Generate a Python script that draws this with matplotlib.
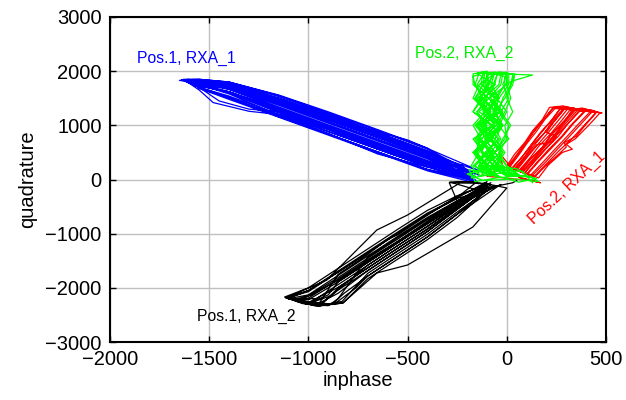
import matplotlib
matplotlib.use("Agg")
import matplotlib.pyplot as plt

plt.rcParams['font.family'] = ['Liberation Sans', 'DejaVu Sans']

# ---- data (inphase, quadrature) ----
blue_pos1_rxa1 = [
    (-160, 60),
    (-400, 520), (-650, 870), (-900, 1210), (-1150, 1530), (-1400, 1790), (-1550, 1840), (-1630, 1830), (-1550, 1740), (-1400, 1600), (-1150, 1260), (-900, 930), (-650, 600), (-400, 280), (-170, 20),
    (-400, 430), (-650, 770), (-900, 1100), (-1150, 1430), (-1400, 1750), (-1550, 1820), (-1600, 1810), (-1550, 1700), (-1400, 1520), (-1150, 1160), (-900, 840), (-650, 510), (-400, 180), (-150, -40),
    (-400, 580), (-650, 920), (-900, 1250), (-1150, 1560), (-1400, 1800), (-1550, 1850), (-1640, 1840), (-1550, 1760), (-1400, 1680), (-1150, 1370), (-900, 1040), (-650, 710), (-400, 380), (-180, 60),
    (-400, 330), (-650, 660), (-900, 990), (-1150, 1320), (-1400, 1660), (-1550, 1780), (-1590, 1800), (-1550, 1680), (-1400, 1480), (-1150, 1150), (-900, 820), (-650, 490), (-400, 160), (-140, -80),
    (-400, 480), (-650, 820), (-900, 1150), (-1150, 1470), (-1400, 1770), (-1550, 1830), (-1620, 1820), (-1550, 1790), (-1400, 1720), (-1150, 1500), (-900, 1190), (-650, 860), (-400, 530), (-170, 130),
    (-400, 560), (-650, 900), (-900, 1230), (-1150, 1550), (-1400, 1800), (-1550, 1850), (-1630, 1850), (-1550, 1650), (-1480, 1420), (-1300, 1260), (-1150, 1200), (-900, 930), (-650, 560), (-400, 240), (-160, -30),
    (-400, 240), (-650, 560), (-900, 890), (-1150, 1230), (-1400, 1600), (-1550, 1760), (-1580, 1790), (-1550, 1720), (-1400, 1620), (-1150, 1310), (-900, 980), (-650, 640), (-400, 320), (-190, 20),
    (-400, 400), (-650, 730), (-900, 1060), (-1150, 1390), (-1400, 1720), (-1550, 1810), (-1610, 1830), (-1550, 1780), (-1400, 1700), (-1150, 1440), (-900, 1120), (-650, 780), (-400, 460), (-150, 100),
    (-400, 290), (-650, 610), (-900, 940), (-1150, 1270), (-1400, 1620), (-1550, 1770), (-1600, 1800), (-1550, 1700), (-1400, 1540), (-1150, 1200), (-900, 880), (-650, 560), (-400, 230), (-160, -20),
    (-400, 500), (-650, 840), (-900, 1170), (-1150, 1500), (-1400, 1780), (-1550, 1840), (-1650, 1830), (-1550, 1770), (-1400, 1700), (-1150, 1400), (-900, 1070), (-650, 740), (-400, 410), (-140, 80),
    (-400, 450), (-650, 780), (-900, 1100), (-1150, 1420), (-1400, 1740), (-1550, 1820), (-1620, 1810), (-1550, 1700), (-1450, 1450), (-1300, 1300), (-1150, 1250), (-900, 920), (-650, 580), (-400, 270), (-160, 0),
    (-400, 190), (-650, 510), (-900, 840), (-1150, 1190), (-1400, 1580), (-1550, 1750), (-1570, 1780), (-1550, 1800), (-1400, 1720), (-1150, 1460), (-900, 1140), (-650, 810), (-400, 480), (-130, 150),
    (-500, 730), (-650, 880), (-900, 1160), (-1150, 1460), (-1400, 1760), (-1550, 1830), (-1610, 1850), (-1550, 1730), (-1400, 1620), (-1150, 1290), (-900, 960), (-650, 630), (-400, 300), (-160, 40),
    (-400, 350), (-650, 680), (-900, 1010), (-1150, 1340), (-1400, 1670), (-1550, 1800), (-1600, 1820), (-1550, 1690), (-1400, 1500), (-1150, 1180), (-900, 850), (-650, 470), (-400, 230), (-222, 268), (-180, -60),
]

black_pos1_rxa2 = [
    (-100, -40), (-250, -340), (-400, -620), (-550, -970), (-700, -1330), (-850, -1690), (-1000, -2050), (-1110, -2180),
    (-960, -2310), (-850, -2100), (-700, -1680), (-550, -1320), (-400, -960), (-250, -550), (-100, -140),
    (-100, -115), (-250, -490), (-400, -870), (-550, -1220), (-700, -1580), (-850, -1940), (-960, -2200), (-1090, -2200), (-1000, -2300), (-900, -2330), (-850, -2200),
    (-700, -1430), (-550, -1070), (-400, -720), (-250, -400), (-100, -70),
    (-237, -65), (-500, -655), (-655, -932), (-741, -1246), (-907, -1855), (-1114, -2188), (-942, -2335), (-826, -2280), (-655, -1726), (-500, -1578), (-171, -877), (0, -157),
    (-100, -80), (-250, -420), (-400, -740), (-550, -1100), (-700, -1450), (-850, -1810), (-1000, -2150), (-1080, -2220), (-980, -2320), (-870, -2300), (-760, -2000), (-700, -1780), (-550, -1420), (-400, -1060), (-250, -640), (-100, -180),
    (-100, -150), (-250, -550), (-400, -960), (-550, -1320), (-700, -1680), (-850, -2040), (-930, -2280), (-1060, -2240), (-980, -2120), (-850, -1860), (-700, -1500), (-550, -1140), (-400, -790), (-250, -440), (-80, -60),
    (-250, -300), (-400, -570), (-550, -920), (-700, -1280), (-850, -1640), (-1000, -2000), (-1120, -2170), (-1030, -2290), (-940, -2330), (-850, -2000), (-700, -1630), (-550, -1270), (-400, -920), (-250, -520), (-120, -160),
    (-250, -460), (-400, -810), (-550, -1170), (-700, -1530), (-850, -1890), (-1000, -2220), (-1070, -2230), (-960, -2340), (-830, -2250), (-700, -1730), (-550, -1370), (-400, -1010), (-250, -600), (-60, -110),
    (-250, -390), (-400, -700), (-550, -1050), (-700, -1410), (-850, -1770), (-1000, -2130), (-1100, -2200), (-990, -2280), (-890, -2150), (-700, -1580), (-550, -1220), (-400, -860), (-250, -480), (-30, -90),
    (-250, -640), (-400, -1060), (-550, -1420), (-700, -1780), (-820, -2100), (-880, -2300), (-1000, -2260), (-1100, -2190), (-1000, -2050), (-850, -1710), (-700, -1350), (-550, -990), (-400, -640), (-250, -330), (-150, -40),
    (-290, -60), (-250, -400), (-400, -770), (-550, -1150), (-620, -1300), (-700, -1480), (-850, -1840), (-1000, -2190), (-1080, -2210), (-950, -2310), (-850, -1750), (-700, -1380), (-600, -1100), (-550, -1020), (-400, -660), (-250, -310), (-100, -80),
    (-250, -520), (-400, -910), (-550, -1270), (-700, -1630), (-850, -1990), (-1000, -2270), (-1060, -2250), (-950, -2330), (-826, -2280), (-700, -1830), (-550, -1470), (-400, -1110), (-250, -700), (-100, -200),
    (-250, -350), (-400, -640), (-550, -1000), (-700, -1350), (-850, -1710), (-1000, -2070), (-1110, -2190), (-1010, -2300), (-900, -2130), (-850, -1890), (-700, -1530), (-550, -1170), (-400, -820), (-250, -460), (-80, -100),
    (-200, -40), (-287, -46), (-150, -194), (30, -60), (50, -20),
]

red_pos2_rxa1 = [
    (15, 230), (60, 450), (100, 660), (150, 890), (190, 1100), (245, 1320), (300, 1340), (370, 1270), (310, 1040), (260, 800), (200, 580), (140, 350), (90, 120),
    (60, 160), (115, 390), (160, 610), (220, 840), (270, 1060), (320, 1290), (400, 1300), (450, 1240), (390, 1000), (330, 760), (260, 520), (200, 290), (140, 60),
    (30, 210), (80, 430), (125, 650), (175, 870), (225, 1090), (270, 1310), (340, 1320), (335, 1270), (280, 1050), (225, 830), (180, 600), (120, 380), (60, 150),
    (105, 100), (160, 330), (220, 560), (280, 790), (335, 1030), (395, 1260), (440, 1270), (290, 1300), (240, 1080), (200, 870), (250, 800), (230, 700), (150, 640), (95, 400), (45, 180),
    (5, 240), (50, 460), (95, 680), (140, 900), (185, 1110), (235, 1325), (280, 1360), (420, 1250), (360, 1020), (300, 780), (240, 550), (180, 310), (120, 80),
    (80, 130), (135, 360), (190, 590), (245, 820), (300, 1050), (355, 1275), (420, 1290), (470, 1230), (410, 990), (345, 750), (300, 650), (330, 560), (280, 500), (210, 270), (160, 30),
    (50, 170), (100, 400), (150, 620), (205, 850), (255, 1070), (305, 1295), (230, 1315), (185, 1100), (135, 880), (95, 670), (55, 450), (10, 230),
    (125, 60), (190, 300), (250, 540), (310, 770), (370, 1010), (430, 1250), (480, 1230), (345, 1280), (290, 1050), (240, 830), (185, 600), (130, 370), (75, 140),
    (37, 195), (90, 420), (130, 640), (190, 860), (230, 1080), (285, 1310), (390, 1260), (330, 1030), (275, 790), (215, 570), (155, 330), (100, 100),
    (70, 150), (120, 380), (180, 600), (225, 830), (290, 1060), (330, 1290), (380, 1320), (450, 1230), (395, 1000), (350, 800), (290, 680), (300, 600), (250, 430), (190, 230), (140, 50),
    (0, 250), (40, 470), (90, 680), (130, 900), (180, 1110), (215, 1330), (260, 1350), (290, 1300), (240, 1080), (190, 860), (140, 640), (90, 410), (40, 190),
    (90, 120), (145, 350), (200, 580), (250, 810), (310, 1040), (365, 1270), (270, 1310), (225, 1090), (170, 870), (125, 650), (80, 430), (25, 210),
    (-40, 500), (-20, 250), (-100, 60), (120, -20), (170, -60), (60, 40), (160, -50),
]

green_pos2_rxa2 = [
    (-60, 60), (-140, 250), (-120, 500), (-160, 750), (-110, 1000), (-150, 1250), (-100, 1500), (-160, 1750), (-140, 1960), (-60, 1980), (-80, 1750), (-40, 1500), (-70, 1250), (-20, 1000), (-60, 750), (-10, 500), (-50, 250), (10, 60),
    (-90, 250), (-160, 500), (-130, 750), (-170, 1000), (-110, 1250), (-160, 1500), (-120, 1750), (-90, 1950), (0, 1970), (-20, 1750), (10, 1500), (-30, 1250), (20, 1000), (-20, 750), (-60, 500), (-100, 250), (-130, 60),
    (-180, 250), (-140, 500), (-90, 750), (-130, 1000), (-80, 1250), (-140, 1500), (-70, 1750), (-40, 1990), (30, 1940), (20, 1750), (0, 1500), (30, 1250), (-10, 1000), (0, 750), (-40, 500), (0, 250), (60, 60),
    (-50, 250), (-80, 500), (-140, 750), (-100, 1000), (-150, 1250), (-90, 1500), (-170, 1750), (-170, 1950), (-110, 1990), (-120, 1750), (-60, 1500), (-100, 1250), (-40, 1000), (-90, 750), (-30, 500), (-110, 250), (-170, 120),
    (-100, 250), (-150, 500), (-100, 750), (-160, 1000), (-90, 1250), (-160, 1500), (-90, 1750), (-70, 1960), (-10, 1900), (-10, 1750), (-50, 1500), (0, 1250), (-40, 1000), (10, 750), (-60, 500), (0, 250), (80, 40),
    (-20, 250), (-60, 500), (-10, 750), (10, 1000), (-40, 1250), (-20, 1500), (20, 1750), (40, 1940), (130, 1930), (30, 1820), (-10, 1750), (-60, 1500), (-90, 1250), (-60, 1000), (-110, 750), (-60, 500), (-140, 250), (-120, 80),
    (-70, 250), (-120, 500), (-170, 750), (-60, 1000), (-120, 1250), (-110, 1500), (-60, 1750), (-150, 1960), (-100, 2000), (-90, 1750), (-130, 1500), (-60, 1250), (-110, 1000), (-40, 750), (-110, 500), (-40, 250), (-90, 60),
    (-160, 250), (-90, 500), (-60, 750), (-140, 1000), (-60, 1250), (-40, 1500), (-110, 1750), (-100, 1950), (10, 1960), (10, 1750), (-40, 1500), (-110, 1250), (-20, 1000), (-80, 750), (-20, 500), (-80, 250), (30, 80),
    (-30, 250), (-120, 500), (-150, 750), (-80, 1000), (-170, 1250), (-130, 1500), (-100, 1750), (-60, 1980), (0, 1930), (0, 1750), (20, 1500), (-10, 1250), (-50, 1000), (-130, 750), (-70, 500), (-140, 250), (-60, 60),
    (-120, 250), (-60, 500), (-110, 750), (-30, 1000), (-90, 1250), (-50, 1500), (-130, 1750), (-120, 1970), (-50, 1950), (-60, 1750), (-150, 1500), (-90, 1250), (-150, 1000), (-100, 750), (-170, 500), (-120, 250), (-40, 60),
    (-170, 250), (-100, 500), (-40, 750), (-120, 1000), (-30, 1250), (-90, 1500), (-30, 1750), (-20, 1960), (40, 1950), (30, 1750), (-10, 1500), (-60, 1250), (-20, 1000), (-90, 750), (-130, 500), (-60, 250), (20, 60),
    (-60, 250), (-20, 500), (-80, 750), (-40, 1000), (-140, 1250), (-60, 1500), (-150, 1750), (-110, 1990), (-170, 1900), (-160, 1750), (-120, 1500), (-170, 1250), (-70, 1000), (-150, 750), (-80, 500), (-130, 250), (-50, 60),
    (-100, 250), (-170, 500), (-80, 750), (-150, 1000), (-50, 1250), (-120, 1500), (-40, 1750), (-30, 1940), (-100, 1980), (-100, 1750), (-80, 1500), (-20, 1250), (-70, 1000), (-30, 750), (-80, 500), (-20, 250), (-80, 60),
    (-50, 250), (-90, 500), (-130, 750), (-20, 1000), (-100, 1250), (-170, 1500), (-140, 1750), (-60, 1960), (0, 1980), (0, 1750), (-90, 1500), (-40, 1250), (-130, 1000), (-70, 750), (-160, 500), (-90, 250), (0, 60),
    (120, 60), (160, -40), (40, 10), (-120, -20), (-200, 100), (-80, 250), (50, 200), (100, 80), (-50, 30), (-160, -40), (-190, 180), (-100, 120), (60, -50), (150, 20), (-30, 120), (-180, 30), (-120, 200), (80, 150), (130, -60),
]

series = [
    (blue_pos1_rxa1, '#0000ff'),
    (black_pos1_rxa2, '#000000'),
    (red_pos2_rxa1, '#ff0000'),
    (green_pos2_rxa2, '#00ff00'),
]

labels = [
    ("Pos.1, RXA_1", -1865, 2240, '#0000ff', 0),
    ("Pos.2, RXA_2", -464, 2335, '#00ee00', 0),
    ("Pos.1, RXA_2", -1562, -2520, '#000000', 0),
    ("Pos.2, RXA_1", 305, -148, '#ff0000', 43),
]

x_ticks = [-2000, -1500, -1000, -500, 0, 500]
y_ticks = [-3000, -2000, -1000, 0, 1000, 2000, 3000]

fig = plt.figure(figsize=(6.26, 4.00), dpi=100)
ax = fig.add_axes([110/626, 58/400, 496/626, 325/400])

for pts, col in series:
    xs = [p[0] for p in pts]
    ys = [p[1] for p in pts]
    ax.plot(xs, ys, color=col, lw=0.9, solid_joinstyle='round')

for txt, x, y, col, rot in labels:
    if rot:
        ax.text(x, y, txt, color=col, fontsize=11.3, rotation=rot,
                ha='center', va='center', rotation_mode='anchor')
    else:
        ax.text(x, y, txt, color=col, fontsize=11.3, ha='left', va='center')

ax.set_xlim(-2000, 500)
ax.set_ylim(-3000, 3000)
ax.set_xticks(x_ticks)
ax.set_yticks(y_ticks)
ax.grid(True, color='#c0c0c0', lw=1.0)
ax.set_axisbelow(True)
ax.tick_params(direction='in', top=True, right=True, length=4, width=1,
               labelsize=14.5, pad=6)
for s in ax.spines.values():
    s.set_linewidth(1.5)
ax.set_xlabel('inphase', fontsize=14.5, labelpad=1)
ax.set_ylabel('quadrature', fontsize=14.5, labelpad=6)

fig.savefig('out.png', dpi=100)
